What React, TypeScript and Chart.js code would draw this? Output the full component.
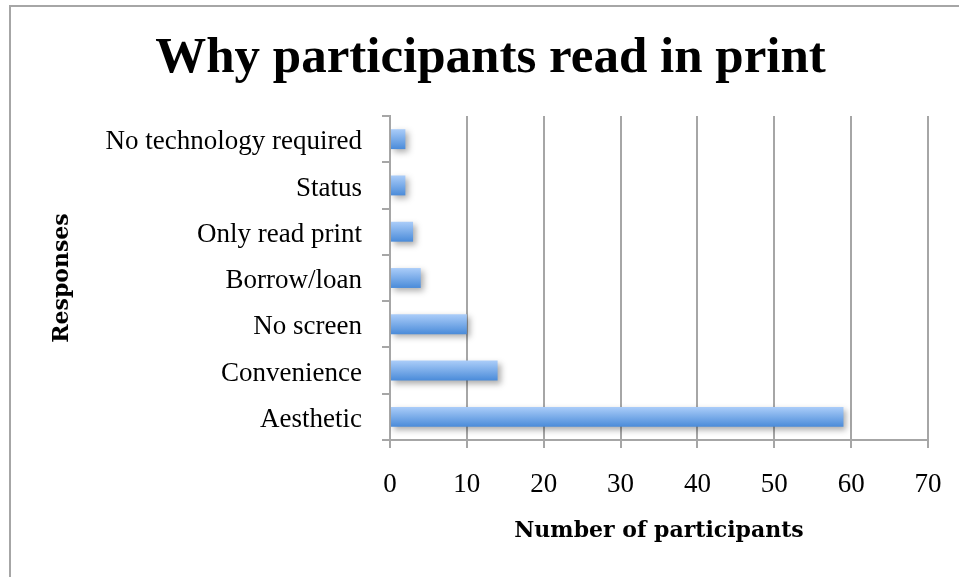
import React, { useEffect, useRef } from "react";
import { Chart, registerables } from "chart.js";

Chart.register(...registerables);

const categories = [
  "No technology required",
  "Status",
  "Only read print",
  "Borrow/loan",
  "No screen",
  "Convenience",
  "Aesthetic",
];
const participants = [2, 2, 3, 4, 10, 14, 59];
const xTicks = [0, 10, 20, 30, 40, 50, 60, 70];
const chartTitle = "Why participants read in print";
const xTitle = "Number of participants";
const yTitle = "Responses";

const shadowPlugin = {
  id: "barShadow",
  beforeDatasetsDraw(chart: any) {
    const c = chart.ctx;
    c.save();
    c.shadowColor = "rgba(0,0,0,0.32)";
    c.shadowBlur = 6;
    c.shadowOffsetX = 3;
    c.shadowOffsetY = 3;
  },
  afterDatasetsDraw(chart: any) {
    chart.ctx.restore();
  },
};

export default function App() {
  const ref = useRef<HTMLCanvasElement | null>(null);

  useEffect(() => {
    document.body.style.margin = "0";
    const canvas = ref.current;
    if (!canvas) return;
    const gridColor = "#a6a6a6";
    const chart = new Chart(canvas, {
      type: "bar",
      data: {
        labels: categories,
        datasets: [
          {
            data: participants,
            backgroundColor: (ctx: any) => {
              const ch = ctx.chart;
              const ys = ch.scales && ch.scales.y;
              if (!ys || ctx.dataIndex == null) return "#78aae6";
              const yc = ys.getPixelForValue(ctx.dataIndex);
              if (!isFinite(yc)) return "#78aae6";
              const g = ch.ctx.createLinearGradient(0, yc - 10, 0, yc + 10);
              g.addColorStop(0, "#abcdf9");
              g.addColorStop(1, "#4a8bd9");
              return g;
            },
            borderWidth: 0,
            barPercentage: 0.43,
            categoryPercentage: 1,
          },
        ],
      },
      options: {
        indexAxis: "y",
        responsive: false,
        animation: false,
        devicePixelRatio: 1,
        layout: { padding: { left: 53, right: 31, top: 0, bottom: 0 } },
        plugins: {
          legend: { display: false },
          tooltip: { enabled: false },
          title: {
            display: true,
            text: chartTitle,
            color: "#000",
            font: { family: "'Liberation Serif'", size: 51, weight: "bold", lineHeight: 1.2 },
            padding: { top: 28.4, bottom: 26.4 },
          },
        },
        scales: {
          x: {
            type: "linear",
            min: 0,
            max: 70,
            afterFit(scale: any) {
              scale.height = 137;
              scale.paddingRight = 0;
              scale.paddingLeft = 0;
            },
            afterBuildTicks(scale: any) {
              scale.ticks = xTicks.map((v) => ({ value: v }));
            },
            ticks: {
              color: "#000",
              padding: 21,
              font: { family: "'Liberation Serif'", size: 27, lineHeight: 1.2 },
            },
            grid: {
              color: gridColor,
              lineWidth: 2,
              drawTicks: true,
              tickLength: 8,
              tickColor: gridColor,
            },
            border: { display: true, color: gridColor, width: 2 },
            title: {
              display: true,
              text: xTitle,
              color: "#000",
              font: { family: "'DejaVu Serif'", size: 22, weight: "bold", lineHeight: 1.2 },
              padding: { top: 0, bottom: 33 },
            },
          },
          y: {
            type: "category",
            afterFit(scale: any) {
              scale.width = 337;
            },
            ticks: {
              color: "#000",
              padding: 20,
              labelOffset: 3,
              font: { family: "'Liberation Serif'", size: 27, lineHeight: 1.2 },
            },
            grid: {
              display: true,
              drawOnChartArea: false,
              drawTicks: true,
              tickLength: 8,
              color: gridColor,
              lineWidth: 2,
              offset: true,
            },
            border: { display: true, color: gridColor, width: 2 },
            title: {
              display: true,
              text: yTitle,
              color: "#000",
              font: { family: "'DejaVu Serif'", size: 22, weight: "bold", lineHeight: 1 },
              padding: { top: -2, bottom: 0 },
            },
          },
        },
      },
      plugins: [shadowPlugin],
    } as any);
    return () => chart.destroy();
  }, []);

  return (
    <div style={{ position: "relative", width: 959, height: 577, overflow: "hidden", background: "#fff" }}>
      <div
        style={{
          position: "absolute",
          left: 9,
          top: 5,
          width: 1000,
          height: 1000,
          borderLeft: "2px solid #a6a6a6",
          borderTop: "2px solid #a6a6a6",
          boxSizing: "border-box",
        }}
      />
      <canvas ref={ref} width={959} height={577} style={{ position: "absolute", left: 0, top: 0 }} />
    </div>
  );
}
